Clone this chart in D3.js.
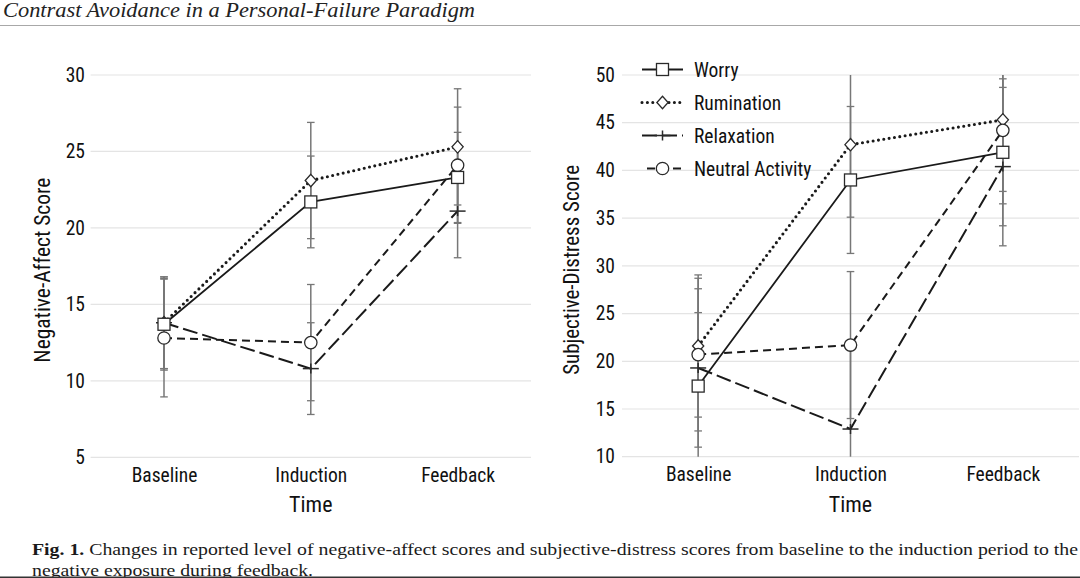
<!DOCTYPE html>
<html>
<head>
<meta charset="utf-8">
<script src="https://cdn.jsdelivr.net/npm/d3@7/dist/d3.min.js"></script>
<style>
  html, body { margin: 0; padding: 0; background: #fff; }
  svg { display: block; }
</style>
</head>
<body>
<svg id="chart" width="1080" height="578"></svg>
<script>
// ---------------- DATA ----------------
const times = ["Baseline", "Induction", "Feedback"];
const seriesNames = ["Worry", "Rumination", "Relaxation", "Neutral Activity"];

// Left panel: Negative-Affect Score (means and error half-widths)
const naTicks = [5, 10, 15, 20, 25, 30];
const naWorry      = [13.7, 21.7, 23.3];
const naRumination = [13.8, 23.1, 25.3];
const naRelaxation = [13.8, 10.8, 21.1];
const naNeutral    = [12.8, 12.5, 24.1];
const naWorryErr      = [3.0, 3.0, 2.95];
const naRuminationErr = [3.0, 3.8, 3.8];
const naRelaxationErr = [3.0, 3.0, 3.05];
const naNeutralErr    = [3.85, 3.8, 3.8];

// Right panel: Subjective-Distress Score
const sdTicks = [10, 15, 20, 25, 30, 35, 40, 45, 50];
const sdWorry      = [17.4, 39.0, 41.9];
const sdRumination = [21.6, 42.7, 45.3];
const sdRelaxation = [19.3, 12.9, 40.4];
const sdNeutral    = [20.7, 21.7, 44.2];
const sdWorryErr      = [7.7, 7.7, 7.7];
const sdRuminationErr = [7.45, 7.6, 7.5];
const sdRelaxationErr = [8.3, 8.3, 8.3];
const sdNeutralErr    = [8.0, 7.7, 7.7];

// ---------------- STYLE ----------------
const styles = {
  "Worry":            { dash: null,    width: 1.8, cap: "butt",  marker: "square" },
  "Rumination":       { dash: "0,5.4", width: 3.1, cap: "round", marker: "diamond" },
  "Relaxation":       { dash: "15,5",  width: 2.0, cap: "butt",  marker: "cross" },
  "Neutral Activity": { dash: "8,5",   width: 2.0, cap: "butt",  marker: "circle" }
};
const markerOrder = ["Rumination", "Relaxation", "Neutral Activity", "Worry"];
const lineColor = "#1a1a1a";
const errColor = "#777";
const gridColor = "#e4e4e4";
const textColor = "#111";
const sansNarrow = '"Liberation Sans Narrow", "Roboto Condensed", "DejaVu Sans Condensed", sans-serif';
const serif = '"Liberation Serif", "DejaVu Serif", serif';

const svg = d3.select("#chart");

function drawMarker(g, type, x, y) {
  if (type === "square") {
    g.append("rect").attr("x", x - 6).attr("y", y - 6).attr("width", 12).attr("height", 12)
      .attr("fill", "#fff").attr("stroke", "#2a2a2a").attr("stroke-width", 1.3);
  } else if (type === "diamond") {
    g.append("path").attr("d", `M${x},${y - 6.2}L${x + 5.6},${y}L${x},${y + 6.2}L${x - 5.6},${y}Z`)
      .attr("fill", "#fff").attr("stroke", "#2a2a2a").attr("stroke-width", 1.3);
  } else if (type === "circle") {
    g.append("circle").attr("cx", x).attr("cy", y).attr("r", 6.2)
      .attr("fill", "#fff").attr("stroke", "#2a2a2a").attr("stroke-width", 1.3);
  } else if (type === "cross") {
    g.append("line").attr("x1", x - 8).attr("x2", x + 8).attr("y1", y).attr("y2", y)
      .attr("stroke", "#2a2a2a").attr("stroke-width", 1.5);
    g.append("line").attr("x1", x).attr("x2", x).attr("y1", y - 5).attr("y2", y + 5)
      .attr("stroke", "#2a2a2a").attr("stroke-width", 1.5);
  }
}

function panel(opts) {
  const { xRange, yRange, domain, ticks, series, errs, yLabel, yLabelX, yLabelLen, labelRight } = opts;
  const x = d3.scalePoint().domain(times).range(xRange).padding(0.5);
  const y = d3.scaleLinear().domain(domain).range(yRange);
  const g = svg.append("g");

  // gridlines
  g.selectAll("line.grid").data(ticks).join("line")
    .attr("x1", xRange[0]).attr("x2", xRange[1])
    .attr("y1", d => y(d)).attr("y2", d => y(d))
    .attr("stroke", gridColor).attr("stroke-width", 1.2);

  // y axis (labels only)
  const yAxis = d3.axisLeft(y).tickValues(ticks).tickSize(0).tickPadding(0).tickFormat(d3.format("d"));
  const ya = g.append("g").attr("transform", `translate(${labelRight},0)`).call(yAxis);
  ya.select(".domain").remove();
  ya.selectAll("text").style("font-family", sansNarrow).style("font-size", "19.5px").attr("fill", textColor);

  // x axis (labels only)
  const xAxis = d3.axisBottom(x).tickSize(0).tickPadding(0);
  const xa = g.append("g").attr("transform", `translate(0,${yRange[0] + 10.5})`).call(xAxis);
  xa.select(".domain").remove();
  xa.selectAll("text").style("font-family", sansNarrow).style("font-size", "19.5px").attr("fill", textColor);

  // axis titles
  g.append("text").text("Time")
    .attr("x", (xRange[0] + xRange[1]) / 2).attr("y", 512)
    .attr("text-anchor", "middle").style("font-family", sansNarrow).style("font-size", "22px").attr("fill", textColor);
  g.append("text").text(yLabel)
    .attr("transform", `translate(${yLabelX},${(yRange[0] + yRange[1]) / 2 + 4}) rotate(-90)`)
    .attr("text-anchor", "middle")
    .attr("textLength", yLabelLen).attr("lengthAdjust", "spacingAndGlyphs")
    .style("font-family", sansNarrow).style("font-size", "22px").attr("fill", textColor);

  const [dmin, dmax] = domain;
  const clamp = v => Math.max(dmin, Math.min(dmax, v));

  // error bars
  const eg = g.append("g");
  seriesNames.forEach(name => {
    const vals = series[name], e = errs[name];
    times.forEach((t, i) => {
      const hi = vals[i] + e[i], lo = vals[i] - e[i];
      const cx = x(t);
      eg.append("line").attr("x1", cx).attr("x2", cx)
        .attr("y1", y(clamp(hi))).attr("y2", y(clamp(lo)))
        .attr("stroke", errColor).attr("stroke-width", 1.5);
      [hi, lo].forEach(v => {
        if (v <= dmax && v >= dmin) {
          eg.append("line").attr("x1", cx - 3.8).attr("x2", cx + 3.8)
            .attr("y1", y(v)).attr("y2", y(v))
            .attr("stroke", errColor).attr("stroke-width", 1.3);
        }
      });
    });
  });

  // lines
  const line = d3.line().x((d, i) => x(times[i])).y(d => y(d));
  seriesNames.forEach(name => {
    const s = styles[name];
    g.append("path").datum(series[name]).attr("d", line)
      .attr("fill", "none").attr("stroke", lineColor)
      .attr("stroke-width", s.width).attr("stroke-linecap", s.cap)
      .attr("stroke-dasharray", s.dash);
  });

  // markers
  const mg = g.append("g");
  markerOrder.forEach(name => {
    series[name].forEach((v, i) => drawMarker(mg, styles[name].marker, x(times[i]), y(v)));
  });
}

panel({
  xRange: [90.6, 531], yRange: [457.3, 75], domain: [5, 30], ticks: naTicks,
  series: { "Worry": naWorry, "Rumination": naRumination, "Relaxation": naRelaxation, "Neutral Activity": naNeutral },
  errs:   { "Worry": naWorryErr, "Rumination": naRuminationErr, "Relaxation": naRelaxationErr, "Neutral Activity": naNeutralErr },
  yLabel: "Negative-Affect Score", yLabelX: 50, yLabelLen: 185, labelRight: 85
});

panel({
  xRange: [622, 1079], yRange: [456.7, 75], domain: [10, 50], ticks: sdTicks,
  series: { "Worry": sdWorry, "Rumination": sdRumination, "Relaxation": sdRelaxation, "Neutral Activity": sdNeutral },
  errs:   { "Worry": sdWorryErr, "Rumination": sdRuminationErr, "Relaxation": sdRelaxationErr, "Neutral Activity": sdNeutralErr },
  yLabel: "Subjective-Distress Score", yLabelX: 579, yLabelLen: 210, labelRight: 615
});

// legend
const lg = svg.append("g");
seriesNames.forEach((name, i) => {
  const s = styles[name];
  const yy = 69.5 + i * 33;
  lg.append("line").attr("x1", 642).attr("x2", 683).attr("y1", yy).attr("y2", yy)
    .attr("stroke", lineColor).attr("stroke-width", s.width).attr("stroke-linecap", s.cap)
    .attr("stroke-dasharray", s.dash)
    .attr("stroke-dashoffset", name === "Neutral Activity" ? 8 : 0);
  drawMarker(lg, s.marker, 662.5, yy);
  lg.append("text").text(name).attr("x", 694).attr("y", yy + 7)
    .style("font-family", sansNarrow).style("font-size", "19.5px").attr("fill", textColor);
});

// header
svg.append("text").text("Contrast Avoidance in a Personal-Failure Paradigm")
  .attr("x", 3).attr("y", 17)
  .attr("textLength", 472).attr("lengthAdjust", "spacingAndGlyphs")
  .style("font-family", serif).style("font-style", "italic").style("font-size", "20px").attr("fill", "#222");
svg.append("line").attr("x1", 0).attr("x2", 1080).attr("y1", 25.5).attr("y2", 25.5)
  .attr("stroke", "#a8a8a8").attr("stroke-width", 1.2);

// caption
const cap1 = svg.append("text").attr("x", 32).attr("y", 555)
  .attr("textLength", 1046).attr("lengthAdjust", "spacingAndGlyphs")
  .style("font-family", serif).style("font-size", "17.5px").attr("fill", "#1a1a1a");
cap1.append("tspan").text("Fig. 1.").style("font-weight", "bold");
cap1.append("tspan").text(" Changes in reported level of negative-affect scores and subjective-distress scores from baseline to the induction period to the");
svg.append("text").text("negative exposure during feedback.").attr("x", 32).attr("y", 575.5)
  .attr("textLength", 281).attr("lengthAdjust", "spacingAndGlyphs")
  .style("font-family", serif).style("font-size", "17.5px").attr("fill", "#1a1a1a");
svg.append("line").attr("x1", 0).attr("x2", 1080).attr("y1", 577.3).attr("y2", 577.3)
  .attr("stroke", "#333").attr("stroke-width", 1.4);
</script>
</body>
</html>
